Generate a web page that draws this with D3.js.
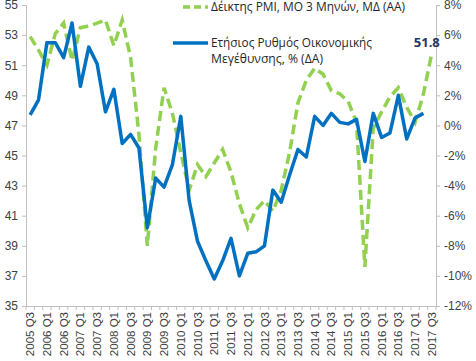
<!DOCTYPE html>
<html>
<head>
<meta charset="utf-8">
<script src="https://cdn.jsdelivr.net/npm/d3@7"></script>
<style>
  body { margin: 0; background: #fff; }
  svg { display: block; font-family: "Open Sans", "Noto Sans", sans-serif; }
</style>
</head>
<body>
<svg width="476" height="361"></svg>
<script>
// Quarters from 2005 Q3 to 2017 Q3
const quarters = [
  "2005 Q3","2005 Q4","2006 Q1","2006 Q2","2006 Q3","2006 Q4","2007 Q1","2007 Q2","2007 Q3","2007 Q4",
  "2008 Q1","2008 Q2","2008 Q3","2008 Q4","2009 Q1","2009 Q2","2009 Q3","2009 Q4","2010 Q1","2010 Q2",
  "2010 Q3","2010 Q4","2011 Q1","2011 Q2","2011 Q3","2011 Q4","2012 Q1","2012 Q2","2012 Q3","2012 Q4",
  "2013 Q1","2013 Q2","2013 Q3","2013 Q4","2014 Q1","2014 Q2","2014 Q3","2014 Q4","2015 Q1","2015 Q2",
  "2015 Q3","2015 Q4","2016 Q1","2016 Q2","2016 Q3","2016 Q4","2017 Q1","2017 Q2","2017 Q3"
];

// PMI, 3-month average (left axis)
const pmi = [
  52.9, 52.0, 51.0, 53.1, 53.8, 51.3, 53.5, 53.6, 53.8, 54.0,
  52.3, 54.0, 51.5, 46.4, 39.0, 45.5, 49.5, 47.8, 45.2, 42.7,
  44.4, 43.6, 44.5, 45.4, 43.9, 41.8, 40.2, 41.4, 42.0, 41.3,
  42.7, 45.2, 48.5, 50.0, 50.8, 50.4, 49.3, 49.1, 48.6, 47.2,
  37.6, 46.8, 47.9, 48.9, 49.5, 48.2, 47.2, 49.1, 51.8
];

// Annual GDP growth, % (right axis)
const gdp = [
  0.7, 1.7, 5.5, 5.5, 4.5, 6.8, 2.6, 5.2, 4.1, 0.9,
  2.4, -1.2, -0.6, -1.5, -6.8, -3.5, -4.1, -2.6, 0.6, -5.0,
  -7.7, -9.0, -10.2, -9.0, -7.5, -10.0, -8.5, -8.4, -8.0, -4.3,
  -5.1, -3.3, -1.6, -2.1, 0.6, 0.0, 0.8, 0.2, 0.1, 0.4,
  -2.4, 0.8, -0.8, -0.5, 2.0, -0.9, 0.5, 0.8
];

const leftTicks = [35, 37, 39, 41, 43, 45, 47, 49, 51, 53, 55];
const rightTicks = [-12, -10, -8, -6, -4, -2, 0, 2, 4, 6, 8];

const legendPmi = "Δέικτης PMI, ΜΟ 3 Μηνών, ΜΔ (ΑΑ)";
const legendGdp = ["Ετήσιος Ρυθμός Οικονομικής", "Μεγέθυνσης, % (ΔΑ)"];

const svg = d3.select("svg");
const plot = { left: 26, right: 436, top: 5, bottom: 306 };
const axisColor = "#bfbfbf";
const textColor = "#404040";

const x = d3.scaleBand().domain(quarters).range([plot.left, plot.right]).padding(0);
const yL = d3.scaleLinear().domain([35, 55]).range([plot.bottom, plot.top]);
const yR = d3.scaleLinear().domain([-12, 8]).range([plot.bottom, plot.top]);
const cx = q => x(q) + x.bandwidth() / 2;

// Left axis
const gl = svg.append("g").attr("transform", `translate(${plot.left},0)`)
  .call(d3.axisLeft(yL).tickValues(leftTicks).tickSize(4).tickPadding(4));
// Right axis
const gr = svg.append("g").attr("transform", `translate(${plot.right},0)`)
  .call(d3.axisRight(yR).tickValues(rightTicks).tickSize(4).tickPadding(4)
    .tickFormat(d => d + "%"));
// Bottom axis: tick at every band boundary, label every other quarter
const gb = svg.append("g").attr("transform", `translate(0,${plot.bottom})`)
  .call(d3.axisBottom(x).tickSize(0).tickFormat((d, i) => i % 2 === 0 ? d : ""));

[gl, gr, gb].forEach(g => {
  g.select(".domain").attr("stroke", axisColor);
  g.selectAll(".tick line").attr("stroke", axisColor);
  g.selectAll("text").attr("fill", textColor).style("font-size", "12px");
});

gb.selectAll(".tick text")
  .style("font-size", "11.5px")
  .attr("transform", "rotate(-90)")
  .attr("text-anchor", "end")
  .attr("x", -6)
  .attr("y", 0)
  .attr("dy", "0.35em");

gb.selectAll(".boundary")
  .data(quarters.concat(["end"]))
  .enter().append("line")
  .attr("x1", (d, i) => plot.left + i * x.bandwidth())
  .attr("x2", (d, i) => plot.left + i * x.bandwidth())
  .attr("y1", 0).attr("y2", 4)
  .attr("stroke", axisColor);

// Lines
const pmiLine = d3.line().x((d, i) => cx(quarters[i])).y(d => yL(d));
const gdpLine = d3.line().x((d, i) => cx(quarters[i])).y(d => yR(d));

svg.append("path").datum(pmi)
  .attr("d", pmiLine)
  .attr("fill", "none")
  .attr("stroke", "#92d050")
  .attr("stroke-width", 3.5)
  .attr("stroke-dasharray", "10,5");

svg.append("path").datum(gdp)
  .attr("d", gdpLine)
  .attr("fill", "none")
  .attr("stroke", "#0070c0")
  .attr("stroke-width", 3.5)
  .attr("stroke-linejoin", "round");

// Last PMI value label
svg.append("text")
  .attr("x", cx(quarters[quarters.length - 1]) + 8)
  .attr("y", 47)
  .attr("text-anchor", "end")
  .attr("fill", "#1f3864")
  .style("font-size", "13px")
  .style("font-weight", "bold")
  .text(pmi[pmi.length - 1].toFixed(1));

// Legend
const lg = svg.append("g");
lg.append("line").attr("x1", 183).attr("x2", 208).attr("y1", 7).attr("y2", 7)
  .attr("stroke", "#92d050").attr("stroke-width", 3.5).attr("stroke-dasharray", "7,4");
lg.append("text").attr("x", 211).attr("y", 11).attr("fill", "#262626")
  .style("font-size", "12px")
  .attr("textLength", 194).attr("lengthAdjust", "spacingAndGlyphs")
  .text(legendPmi);
lg.append("line").attr("x1", 173).attr("x2", 208).attr("y1", 43).attr("y2", 43)
  .attr("stroke", "#0070c0").attr("stroke-width", 3.5);
const gdpWidths = [161, 112];
lg.selectAll(".gdpText").data(legendGdp).enter().append("text")
  .attr("x", 211).attr("y", (d, i) => 47 + i * 15.5)
  .attr("fill", "#262626").style("font-size", "12px")
  .attr("textLength", (d, i) => gdpWidths[i]).attr("lengthAdjust", "spacingAndGlyphs")
  .text(d => d);
</script>
</body>
</html>
